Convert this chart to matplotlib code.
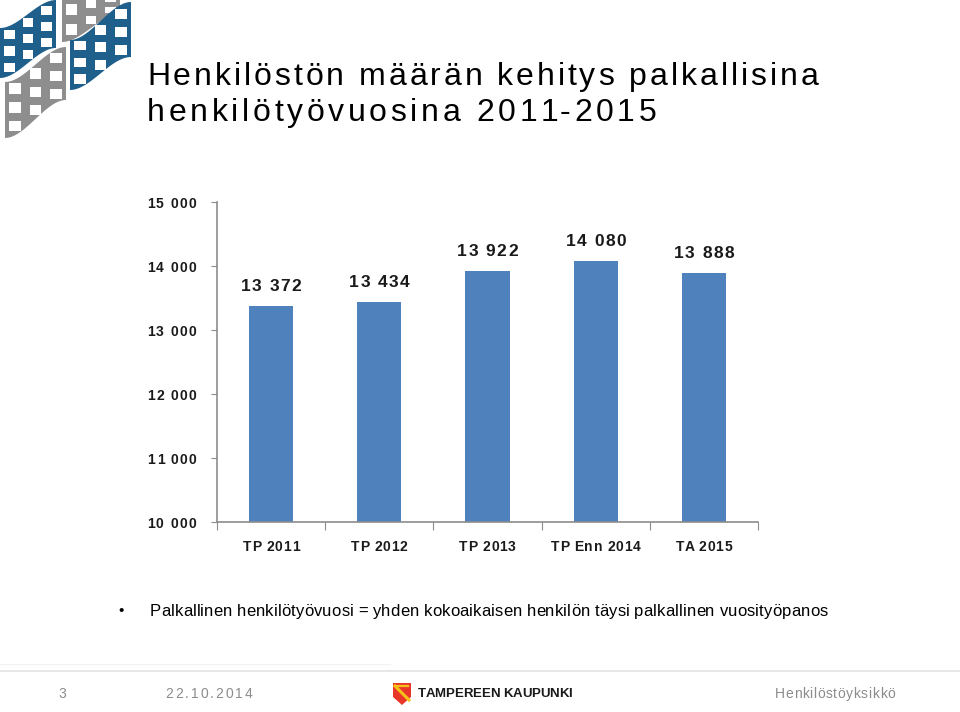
import numpy as np
import matplotlib.pyplot as plt
from matplotlib.patches import Polygon, Rectangle
from matplotlib.font_manager import FontProperties

plt.rcParams['font.family'] = ['Liberation Sans', 'DejaVu Sans']

categories = ['TP 2011', 'TP 2012', 'TP 2013', 'TP Enn 2014', 'TA 2015']
values = [13372, 13434, 13922, 14080, 13888]
yticks = [10000, 11000, 12000, 13000, 14000, 15000]

title_lines = ['Henkilöstön määrän kehitys palkallisina', 'henkilötyövuosina 2011-2015']
note = 'Palkallinen henkilötyövuosi = yhden kokoaikaisen henkilön täysi palkallinen vuosityöpanos'

BAR = '#4F81BD'
AXIS = '#8C8C8C'
DARK = '#1A1A1A'
GREY = '#8C8C8C'


def fmt_space(v):
    return '{:,.0f}'.format(v).replace(',', ' ')


fig = plt.figure(figsize=(9.6, 7.12), dpi=100)
renderer = fig.canvas.get_renderer()

# overlay in pixel coordinates (y down) for the slide texts and decoration
deco = fig.add_axes([0, 0, 1, 1], zorder=5)
deco.set_xlim(0, 960)
deco.set_ylim(712, 0)
deco.axis('off')
deco.patch.set_alpha(0)


def tracked(x, y, s, size, track=0.0, weight='normal', color='black', ha='left'):
    # text drawn glyph by glyph so the wide letter spacing of the slide can be kept
    prop = FontProperties(family=['Liberation Sans', 'DejaVu Sans'], size=size, weight=weight)

    def width(t):
        return renderer.get_text_width_height_descent(t + '|', prop, ismath=False)[0] - \
            renderer.get_text_width_height_descent('|', prop, ismath=False)[0]

    total = width(s) + track * (len(s) - 1)
    x0 = {'left': x, 'center': x - total / 2, 'right': x - total}[ha]
    for i, ch in enumerate(s):
        if ch == ' ':
            continue
        deco.text(x0 + width(s[:i]) + i * track, y, ch, fontproperties=prop,
                  color=color, ha='left', va='baseline')


def flag(x0, x1, yl_top, yl_bot, yr_top, yr_bot, color, ncol, nrow):
    xs = np.linspace(x0, x1, 40)
    t = (xs - x0) / (x1 - x0)
    s = t * t * (3 - 2 * t)
    top = yl_top + (yr_top - yl_top) * s
    bot = yl_bot + (yr_bot - yl_bot) * s
    pts = list(zip(xs, top)) + list(zip(xs[::-1], bot[::-1]))
    deco.add_patch(Polygon(pts, closed=True, fc=color, ec='none'))
    w = (x1 - x0) / ncol
    for i in range(ncol):
        cx = x0 + (i + 0.5) * w
        tt = (cx - x0) / (x1 - x0)
        ss = tt * tt * (3 - 2 * tt)
        ct = yl_top + (yr_top - yl_top) * ss
        cb = yl_bot + (yr_bot - yl_bot) * ss
        h = (cb - ct) / nrow
        for j in range(nrow):
            cy = ct + (j + 0.5) * h
            deco.add_patch(Rectangle((cx - w * 0.28, cy - h * 0.28), w * 0.56, h * 0.56,
                                     fc='white', ec='none'))


flag(62, 120, 0, 42, -8, 14, '#8E8E8E', 3, 2)
flag(0, 56, 28, 78, 0, 48, '#1F5F8B', 3, 3)
flag(70, 131, 40, 90, 2, 57, '#1F5F8B', 3, 3)
flag(5, 66, 82, 138, 47, 100, '#8E8E8E', 3, 3)

tracked(147, 85, title_lines[0], 23, track=2.95)
tracked(147, 121, title_lines[1], 23, track=3.65)

tracked(118, 615, '•', 11)
tracked(150, 616, note, 12, track=0.12)

# footer
deco.plot([0, 960], [671, 671], color='#E3E3E3', lw=1.2)
deco.plot([0, 390], [664, 664], color='#F2F2F2', lw=0.8)
tracked(58, 698, '3', 10, color=GREY)
tracked(165, 698, '22.10.2014', 10, track=2.0, color=GREY)
tracked(895, 698, 'Henkilöstöyksikkö', 10, track=0.6, color=GREY, ha='right')
shield = [(393, 683), (411, 683), (411, 697), (402, 705), (393, 697)]
deco.add_patch(Polygon(shield, closed=True, fc='#E8362A', ec='none'))
deco.plot([395, 409], [686, 700], color='#F6C21A', lw=2.2)
deco.plot([396, 408], [686, 686], color='#F6C21A', lw=1.6)
tracked(418, 697, 'TAMPEREEN KAUPUNKI', 9.5, weight='bold', color=DARK, track=-0.1)

# chart
ax = fig.add_axes([217 / 960, 1 - 522 / 712, (758 - 217) / 960, (522 - 202) / 712])
x = np.arange(len(categories))
ax.bar(x, values, width=0.41, color=BAR, zorder=2)

ax.set_ylim(10000, 15000)
ax.set_xlim(-0.5, len(categories) - 0.5)
ax.set_yticks(yticks)
ax.set_yticklabels([])
ax.set_xticks(np.arange(-0.5, len(categories), 1.0))
ax.set_xticklabels([])

for side in ('top', 'right'):
    ax.spines[side].set_visible(False)
for side in ('left', 'bottom'):
    ax.spines[side].set_color(AXIS)
    ax.spines[side].set_linewidth(1.2)
ax.tick_params(axis='y', direction='out', length=4, color=AXIS)
ax.tick_params(axis='x', direction='out', length=6, color=AXIS)

# labels placed through the axes' own data transform, converted to pixel rows
H = fig.bbox.height


def to_px(xd, yd):
    px, py = ax.transData.transform((xd, yd))
    return px, H - py


for yt in yticks:
    px, py = to_px(-0.5, yt)
    tracked(px - 21, py + 5.5, fmt_space(yt), 10, track=1.3, weight='bold', color=DARK, ha='right')

for xi, cat in zip(x, categories):
    px, py = to_px(xi, 10000)
    tracked(px, py + 29, cat, 10, track=0.7, weight='bold', color=DARK, ha='center')

for xi, v in zip(x, values):
    px, py = to_px(xi, v)
    tracked(px, py - 15, fmt_space(v), 12.5, track=1.4, weight='bold', color=DARK, ha='center')

fig.savefig('out.png', dpi=100)
